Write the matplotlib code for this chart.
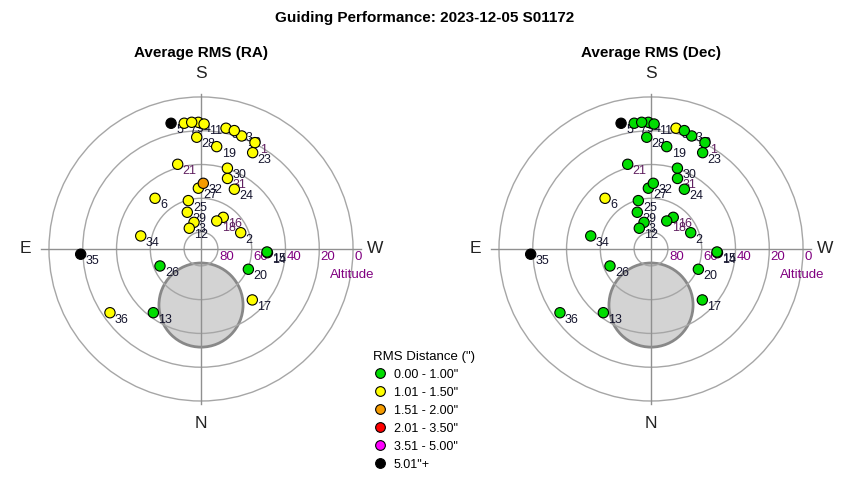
import matplotlib
matplotlib.use("Agg")
import matplotlib.pyplot as plt
from matplotlib.patches import Circle
from matplotlib.lines import Line2D
import numpy as np

plt.rcParams['font.family'] = ['Liberation Sans', 'DejaVu Sans']

# guide runs: number, altitude (deg), azimuth (deg, N=0, E=90)
labels = [1, 2, 3, 4, 5, 6, 7, 8, 9, 10, 11, 12, 13, 14, 15, 16, 17, 18,
          19, 20, 21, 23, 24, 25, 26, 27, 28, 29, 30, 31, 32, 33, 34, 35, 36]
alt = [19.4, 64.6, 73.7, 15.0, 13.5, 49.5, 14.9, 17.0, 14.8, 18.9, 16.0, 75.9,
       42.9, 50.6, 50.9, 67.1, 47.2, 71.0, 28.7, 59.5, 38.0, 25.3, 49.5, 60.4,
       63.7, 54.0, 23.8, 66.8, 39.7, 45.4, 51.1, 17.2, 53.5, 18.7, 24.2]
az = [206.9, 247.7, 165.3, 178.8, 166.6, 137.8, 172.4, 191.7, 175.8, 199.8, 181.4, 150.5,
      36.8, 273.2, 272.6, 215.1, 314.8, 209.3, 188.7, 293.2, 164.6, 208.2, 209.2, 165.3,
      67.5, 177.5, 177.8, 159.5, 198.1, 200.6, 182.0, 195.7, 102.2, 87.5, 55.0]
# RMS bin index for each run
ra_bin = [1, 1, 1, 1, 5, 1, 1, 1, 1, 1, 1, 1, 0, 0, 0, 1, 1, 1,
          1, 0, 1, 1, 1, 1, 0, 1, 1, 1, 1, 1, 2, 1, 1, 5, 1]
dec_bin = [0, 0, 0, 0, 5, 1, 0, 1, 0, 0, 0, 0, 0, 0, 0, 0, 0, 0,
           0, 0, 0, 0, 0, 0, 0, 0, 0, 0, 0, 0, 0, 0, 0, 5, 0]

bin_labels = ['0.00 - 1.00"', '1.01 - 1.50"', '1.51 - 2.00"',
              '2.01 - 3.50"', '3.51 - 5.00"', '5.01"+']
bin_colors = ['#00dd00', '#ffff00', '#f59b00', '#ff0000', '#ff00ff', '#000000']
ring_alts = [80, 60, 40, 20, 0]

# unreachable zone around the pole
pole_alt = 56.8
pole_az = 0.0
pole_radius = 24.9

purple_nums = [1, 16, 18, 21, 31]


def to_xy(a, z):
    r = 90 - np.asarray(a, dtype=float)
    t = np.radians(z)
    return -r * np.sin(t), -r * np.cos(t)


def draw_sky(ax, bins):
    ax.set_xlim(-110, 110)
    ax.set_ylim(-110, 110)
    ax.axis('off')

    px, py = to_xy(pole_alt, pole_az)
    ax.add_patch(Circle((px, py), pole_radius, fc='#d3d3d3', ec='#888888', lw=2, zorder=1))
    for a in ring_alts:
        r = 90 - a
        ax.add_patch(Circle((0, 0), r, fill=False, ec='#a6a6a6', lw=1, zorder=2))
        ax.text(r + 0.8, -4.9, str(a), color='#800080', fontsize=9.5,
                ha='left', va='center', zorder=2)
    ax.plot([-95, 95], [0, 0], color='#909090', lw=1, zorder=2)
    ax.plot([0, 0], [-92, 92], color='#909090', lw=1, zorder=2)
    ax.text(76.5, -15.4, 'Altitude', color='#800080', fontsize=9.5, ha='left', va='center')

    for txt, x, y in [('S', 0, 103.6), ('N', 0, -103.6), ('E', -104.2, 0), ('W', 103.2, 0)]:
        ax.text(x, y, txt, fontsize=12.5, ha='center', va='center', color='#222222')

    x, y = to_xy(alt, az)
    cols = [bin_colors[b] for b in bins]
    ax.scatter(x, y, s=55, c=cols, edgecolors='black', linewidths=0.8, zorder=4)
    for n, xi, yi in zip(labels, x, y):
        col = '#602060' if n in purple_nums else '#15152e'
        ax.annotate(str(n), (xi, yi), xytext=(5, -7), textcoords='offset pixels',
                    fontsize=9, ha='left', va='center', color=col, zorder=3)


fig = plt.figure(figsize=(8.5, 4.8), dpi=100)
ax1 = fig.add_axes([0.01788, 0.0942, 0.4372, 0.7742])
ax2 = fig.add_axes([0.5473, 0.0942, 0.4372, 0.7742])
draw_sky(ax1, ra_bin)
draw_sky(ax2, dec_bin)

fig.text(0.5, 1 - 18 / 480, 'Guiding Performance: 2023-12-05 S01172',
         fontsize=11, fontweight='bold', ha='center', va='center')
fig.text(201 / 850, 1 - 53 / 480, 'Average RMS (RA)', fontsize=11,
         fontweight='bold', ha='center', va='center')
fig.text(651 / 850, 1 - 53 / 480, 'Average RMS (Dec)', fontsize=11,
         fontweight='bold', ha='center', va='center')

handles = [Line2D([], [], marker='o', ls='none', markersize=7, markerfacecolor=c,
                  markeredgecolor='black', markeredgewidth=0.8) for c in bin_colors]
leg = fig.legend(handles, bin_labels, title='RMS Distance (")', loc='upper left',
                 bbox_to_anchor=(364 / 850, 1 - 342 / 480), frameon=False,
                 fontsize=9, title_fontsize=9.5, handletextpad=0.5,
                 labelspacing=0.48, borderpad=0.2, handlelength=1.2,
                 alignment='left')

fig.savefig('out.png', dpi=100)
